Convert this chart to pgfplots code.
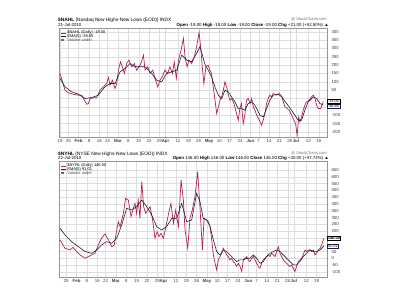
\documentclass[border=0pt]{standalone}
\usepackage{fontspec}
\setmainfont{Liberation Sans}
\usepackage{pgfplots}
\pgfplotsset{compat=1.18}
\definecolor{pricered}{RGB}{176,34,84}
\definecolor{emanavy}{RGB}{28,28,64}
\definecolor{gridgray}{RGB}{222,222,222}
\definecolor{framegray}{RGB}{150,150,150}
\newcommand{\sz}{\fontsize{4.4}{5}\selectfont}
\newcommand{\lgf}{\fontsize{4}{4.5}\selectfont}
\pgfplotsset{
  scchart/.style={
    scale only axis, width=268pt,
    axis line style={framegray, line width=0.4pt},
    major tick length=0pt,
    grid=major, major grid style={gridgray, line width=0.35pt},
    yticklabel pos=right,
    tick label style={font=\sz, text=black!75},
    /pgf/number format/assume math mode=true,
    /pgf/number format/1000 sep={},
    xtick={0,4,9,14,19,23,28,33,38,43,48,51,57,62,67,72,77,82,87,92,96,101,106,111,114,120,125},
    xticklabels={19,25,\textbf{Feb},8,16,22,\textbf{Mar},8,15,22,29,\textbf{Apr},12,19,26,\textbf{May},10,17,24,\textbf{Jun},7,14,21,28,\textbf{Jul},12,19},
    xticklabel style={yshift=1pt},
    yticklabel style={xshift=1pt},
    clip=false,
  }
}
\begin{document}
\begin{tikzpicture}[x=1pt,y=1pt]
\path[use as bounding box] (0,0) rectangle (400,300);
% ---------- top chart ----------
\node[anchor=base west, font=\fontsize{4.8}{5}\selectfont, inner sep=0] at (58,278.5) {\textbf{\$NAHL} (Nasdaq New Highs-New Lows (EOD)) INDX};
\node[anchor=base west, font=\sz, inner sep=0] at (58,273.5) {21-Jul-2010};
\node[anchor=base east, font=\lgf, inner sep=0, text=black!55] at (327,279.5) {@ StockCharts.com};
\node[anchor=base east, font=\sz, inner sep=0] at (329,273.5) {\textbf{Open} -19.00 \textbf{High} -19.00 \textbf{Low} -19.00 \textbf{Close} -19.00 \textbf{Chg} +21.00 (+52.50\%) ▲};
\begin{axis}[scchart, at={(59pt,163pt)}, anchor=south west, height=109pt,
  xmin=-0.5, xmax=129, ymin=-230, ymax=422,
  ytick={-200,-150,...,400},
  yticklabels={-200,-150,-100,,,50,100,150,200,250,300,350,400}]
\addplot[pricered, line width=0.7pt] coordinates {
(0,150)(2.4,50)(4.0,34)(6.4,26)(8.9,20)(10.5,20)(11.3,0)(12.9,-34)(13.7,-30)(14.5,0)(16.1,4)(17.7,6)(19.3,50)(20.9,70)(22.5,90)(23.4,126)(24.2,80)(25.3,110)(26.6,60)(27.4,90)(28.2,170)(29.2,220)(30.1,190)(31.1,150)(32.2,210)(33.3,230)(34.6,190)(35.9,210)(37.0,170)(38.2,190)(39.1,210)(40.3,260)(41.1,170)(42.4,190)(43.5,150)(44.8,170)(45.9,120)(47.2,70)(48.3,110)(49.4,130)(50.7,170)(52.0,150)(53.1,190)(54.3,150)(55.2,220)(56.2,120)(57.2,230)(58.5,290)(59.6,360)(60.4,250)(61.4,190)(62.3,230)(63.6,210)(64.9,250)(66.0,310)(67.2,395)(68.1,290)(68.8,180)(69.5,90)(70.5,190)(71.6,200)(72.4,170)(73.2,150)(74.0,70)(74.8,0)(75.7,-90)(76.5,-50)(77.3,-10)(78.1,10)(78.9,50)(79.7,100)(80.5,70)(81.3,20)(82.1,-10)(82.9,0)(83.7,-20)(84.5,-50)(85.3,-90)(86.1,-130)(86.9,-60)(87.7,-30)(88.5,-150)(89.3,-100)(90.1,-10)(90.9,0)(91.8,-30)(92.6,0)(93.4,-50)(94.2,-70)(95.0,-100)(96.3,-130)(97.4,-160)(98.2,-130)(99.0,-90)(99.8,-30)(100.6,0)(101.4,20)(102.2,10)(103.0,30)(104.6,20)(105.9,30)(107.1,14)(107.9,-20)(108.7,-50)(109.8,-60)(110.8,-70)(111.9,-100)(113.0,-130)(113.8,-150)(114.6,-220)(115.3,-110)(115.9,-140)(116.7,-110)(117.5,-70)(118.3,-40)(119.1,-20)(120.4,-10)(121.5,10)(122.4,20)(123.2,0)(124.0,-40)(124.8,-60)(125.9,-60)(127.2,-19)
};
\addplot[emanavy, line width=0.6pt] coordinates {
(0,120)(2.4,70)(5.6,40)(8.9,26)(12.1,0)(15.3,6)(18.5,20)(21.7,70)(24.2,90)(26.6,90)(29.0,160)(31.4,180)(33.8,210)(36.2,190)(38.6,190)(41.1,190)(44.3,150)(46.7,110)(49.1,100)(51.5,150)(54.0,160)(56.4,170)(58.8,260)(61.2,230)(63.6,220)(66.0,270)(67.6,310)(69.0,250)(70.0,205)(71.6,170)(73.2,130)(74.8,70)(76.5,20)(78.1,0)(79.7,50)(81.3,40)(82.9,10)(84.5,-20)(86.1,-60)(87.7,-60)(89.3,-70)(90.9,-30)(92.6,-20)(94.2,-40)(96.6,-100)(98.2,-110)(99.8,-60)(101.4,-10)(103.0,20)(105.4,26)(107.1,10)(109.5,-30)(111.9,-70)(113.5,-100)(115.1,-130)(116.7,-130)(118.3,-70)(119.9,-20)(122.4,10)(124.0,0)(125.6,-30)(127.2,-38.8)
};
% legend
\draw[pricered, line width=0.7pt] (rel axis cs:0.008,0.955) -- ++(5pt,0pt);
\node[anchor=west, font=\lgf, inner sep=0.5pt] at ([xshift=5.5pt]rel axis cs:0.008,0.955) {\$NAHL (Daily) -19.00};
\draw[emanavy, line width=0.6pt] (rel axis cs:0.008,0.922) -- ++(5pt,0pt);
\node[anchor=west, font=\lgf, inner sep=0.5pt] at ([xshift=5.5pt]rel axis cs:0.008,0.922) {EMA(5) -38.80};
\fill[black!60] ([yshift=-1.2pt]rel axis cs:0.008,0.889) rectangle ++(2.4pt,2.4pt);
\node[anchor=west, font=\lgf, inner sep=0.5pt, text=black!70] at ([xshift=5.5pt]rel axis cs:0.008,0.889) {Volume undef};
\node[anchor=west, draw=emanavy, fill=white, font=\lgf, inner sep=0.6pt, line width=0.3pt] at (axis cs:129,-44) {-38.80};
\node[anchor=west, draw=black, fill=white, font=\lgf, inner sep=0.6pt, line width=0.4pt] at (axis cs:129,-17) {-19.00};
\end{axis}
% ---------- bottom chart ----------
\node[anchor=base west, font=\fontsize{4.8}{5}\selectfont, inner sep=0] at (58,144.5) {\textbf{\$NYHL} (NYSE New Highs-New Lows (EOD)) INDX};
\node[anchor=base west, font=\sz, inner sep=0] at (58,140.5) {22-Jul-2010};
\node[anchor=base east, font=\lgf, inner sep=0, text=black!55] at (327,145) {@ StockCharts.com};
\node[anchor=base east, font=\sz, inner sep=0] at (329,140.5) {\textbf{Open} 146.00 \textbf{High} 146.00 \textbf{Low} 146.00 \textbf{Close} 146.00 \textbf{Chg} +40.00 (+37.74\%) ▲};
\begin{axis}[scchart, at={(59pt,23pt)}, anchor=south west, height=116pt,
  xmin=0.5, xmax=130, ymin=-137, ymax=716,
  ytick={-100,-50,...,650},
  yticklabels={-100,-50,0,50,,,200,250,300,350,400,450,500,550,600,650}]
\addplot[pricered, line width=0.7pt] coordinates {
(1.0,135)(3.4,74)(5.8,62)(7.4,81)(9.0,50)(10.7,25)(13.1,1)(14.7,13)(16.3,25)(17.9,37)(19.5,99)(21.1,148)(22.7,180)(24.4,135)(26.0,86)(27.2,99)(28.4,209)(29.2,270)(30.0,233)(31.6,331)(32.7,442)(34.0,429)(35.3,307)(36.4,368)(37.2,405)(38.0,331)(38.8,429)(39.6,295)(40.5,564)(41.4,380)(42.4,331)(43.4,356)(44.5,380)(45.6,295)(46.9,148)(47.9,197)(48.8,160)(49.8,184)(50.9,148)(52.0,221)(53.3,319)(54.6,405)(55.8,258)(56.9,356)(58.2,233)(59.5,576)(60.6,429)(61.4,209)(62.7,74)(63.8,295)(64.9,356)(66.2,454)(67.5,638)(68.6,380)(69.8,62)(70.6,295)(71.9,282)(72.7,270)(73.5,233)(74.3,135)(75.1,25)(75.9,-36)(76.7,-85)(77.5,-11)(78.3,13)(79.1,37)(79.9,74)(80.7,50)(81.5,25)(82.3,13)(83.1,-11)(83.9,1)(84.7,-24)(85.5,-36)(86.3,-60)(87.2,-36)(88.0,-60)(88.8,-97)(89.6,-11)(90.4,1)(91.2,13)(92.0,-11)(92.8,-24)(93.6,1)(94.4,13)(95.2,-11)(96.0,-36)(96.8,-60)(97.6,-73)(98.4,-36)(99.2,-11)(100.0,1)(100.8,13)(101.6,25)(102.4,13)(103.3,37)(104.1,25)(104.9,13)(105.7,50)(106.5,86)(107.3,37)(108.1,13)(108.9,-11)(109.7,-24)(110.5,-36)(111.3,-48)(112.1,-60)(112.9,-48)(113.7,-73)(114.5,-97)(115.3,-60)(116.1,-24)(116.9,-11)(117.7,1)(118.5,25)(119.4,62)(120.2,50)(121.0,62)(121.8,62)(122.6,50)(123.4,62)(124.2,25)(125.0,37)(125.8,62)(126.6,74)(127.4,99)(128.5,146)
};
\addplot[emanavy, line width=0.6pt] coordinates {
(1.0,221)(3.4,172)(6.6,123)(9.9,86)(13.1,50)(16.3,37)(18.7,62)(21.1,99)(23.5,123)(26.0,111)(28.4,148)(30.8,246)(33.2,368)(35.6,356)(38.0,380)(40.5,429)(42.9,380)(45.3,319)(47.7,233)(50.1,209)(52.5,233)(55.0,295)(57.4,295)(59.8,405)(62.2,270)(64.6,282)(67.0,478)(68.6,420)(70.2,295)(71.9,282)(73.5,233)(75.1,135)(76.7,50)(78.3,25)(79.9,62)(81.5,50)(83.1,25)(84.7,1)(86.3,-24)(88.0,-11)(89.6,-11)(91.2,1)(92.8,1)(94.4,25)(96.0,1)(97.6,-36)(99.2,-24)(100.8,13)(102.4,37)(104.1,50)(105.7,62)(107.3,50)(108.9,25)(110.5,1)(112.1,-24)(113.7,-48)(115.3,-48)(116.9,-24)(118.5,13)(120.2,37)(121.8,62)(123.4,50)(125.0,50)(126.6,62)(128.5,91)
};
% legend
\draw[pricered, line width=0.7pt] (rel axis cs:0.008,0.958) -- ++(5pt,0pt);
\node[anchor=west, font=\lgf, inner sep=0.5pt] at ([xshift=5.5pt]rel axis cs:0.008,0.958) {\$NYHL (Daily) 146.00};
\draw[emanavy, line width=0.6pt] (rel axis cs:0.008,0.927) -- ++(5pt,0pt);
\node[anchor=west, font=\lgf, inner sep=0.5pt] at ([xshift=5.5pt]rel axis cs:0.008,0.927) {EMA(5) 91.01};
\fill[black!60] ([yshift=-1.2pt]rel axis cs:0.008,0.896) rectangle ++(2.4pt,2.4pt);
\node[anchor=west, font=\lgf, inner sep=0.5pt, text=black!70] at ([xshift=5.5pt]rel axis cs:0.008,0.896) {Volume undef};
\node[anchor=west, draw=emanavy, fill=white, font=\lgf, inner sep=0.6pt, line width=0.3pt] at (axis cs:130,91) {91.01};
\node[anchor=west, draw=black, fill=white, font=\lgf, inner sep=0.6pt, line width=0.4pt] at (axis cs:130,146) {\textbf{146.00}};
\end{axis}
\end{tikzpicture}
\end{document}
